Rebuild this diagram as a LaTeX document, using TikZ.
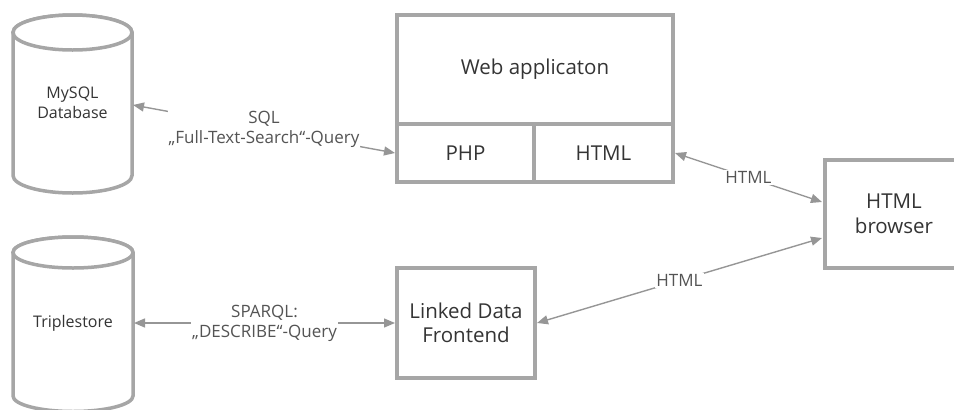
\documentclass[tikz,border=0pt]{standalone}
\usepackage{fontspec}
\setmainfont{Open Sans}
\usetikzlibrary{arrows.meta}
\definecolor{bordergray}{RGB}{166,166,166}
\definecolor{linegray}{RGB}{150,150,150}
\definecolor{txtgray}{RGB}{52,52,52}
\definecolor{lblgray}{RGB}{84,84,84}
\begin{document}
\begin{tikzpicture}[x=1pt,y=-1pt,
  boxline/.style={draw=bordergray, line width=4pt, fill=white},
  boxstyle/.style={boxline, text=txtgray,
    font=\fontsize{20.5}{24.5}\selectfont, align=center, inner sep=0pt, outer sep=2pt},
  boxtext/.style={text=txtgray,
    font=\fontsize{20.5}{24.5}\selectfont, align=center, inner sep=0pt, outer sep=2pt},
  cylline/.style={draw=bordergray, line width=3.5pt, fill=white},
  cyltext/.style={text=txtgray, font=\fontsize{16}{20}\selectfont, align=center,
    inner sep=0pt, outer sep=1pt},
  conn/.style={draw=linegray, line width=1.4pt,
    {Triangle[length=11pt,width=9pt]}-{Triangle[length=11pt,width=9pt]}},
  lbl/.style={fill=white, text=lblgray, font=\fontsize{17}{20}\selectfont,
    align=center, inner sep=1pt}
]
\useasboundingbox (0,0) rectangle (954,410);
\clip (0,0) rectangle (954,410);

% MySQL cylinder
\path[cylline] (13,32.5) -- (13,175.5)
  arc[start angle=180,end angle=0,x radius=59.5,y radius=17.5]
  -- (132,32.5) arc[start angle=0,end angle=-180,x radius=59.5,y radius=17.5] -- cycle;
\draw[cylline] (72.5,32.5) ellipse[x radius=59.5,y radius=17.5];
\node[cyltext, minimum width=119pt, minimum height=160pt] (mysql) at (72.5,103) {MySQL\\Database};

% Triplestore cylinder
\path[cylline] (13,252.5) -- (13,396)
  arc[start angle=180,end angle=0,x radius=60,y radius=15.5]
  -- (133,252.5) arc[start angle=0,end angle=-180,x radius=60,y radius=15.5] -- cycle;
\draw[cylline] (73,252.5) ellipse[x radius=60,y radius=15.5];
\node[cyltext, minimum width=120pt, minimum height=160pt] (triple) at (73,323) {Triplestore};

% Web application
\node[boxstyle, minimum width=276pt, minimum height=109pt] (webapp) at (535,69.5) {Web applicaton};
\node[boxstyle, minimum width=137pt, minimum height=58pt] (php) at (465.5,153) {PHP};
\node[boxstyle, minimum width=139pt, minimum height=58pt] (html) at (603.5,153) {HTML};

% Browser (runs past the right edge) and frontend
\path[boxline] (825,160) rectangle (1000,268);
\node[boxtext, minimum width=140pt, minimum height=108pt] (browser) at (894,214) {HTML\\browser};
\node[boxstyle, minimum width=138pt, minimum height=110pt] (linked) at (466,323) {Linked Data\\Frontend};

% Connectors
\draw[conn] ([yshift=-2pt]mysql.east) -- node[lbl]{SQL\\„Full-Text-Search“-Query} (php.west);
\draw[conn] (triple.east) -- node[lbl]{SPARQL:\\„DESCRIBE“-Query} (linked.west);
\draw[conn] (html.east) -- node[lbl]{HTML} ([yshift=12pt]browser.west);
\draw[conn] (linked.east) -- node[lbl]{HTML} ([yshift=-24pt]browser.west);
\end{tikzpicture}
\end{document}
